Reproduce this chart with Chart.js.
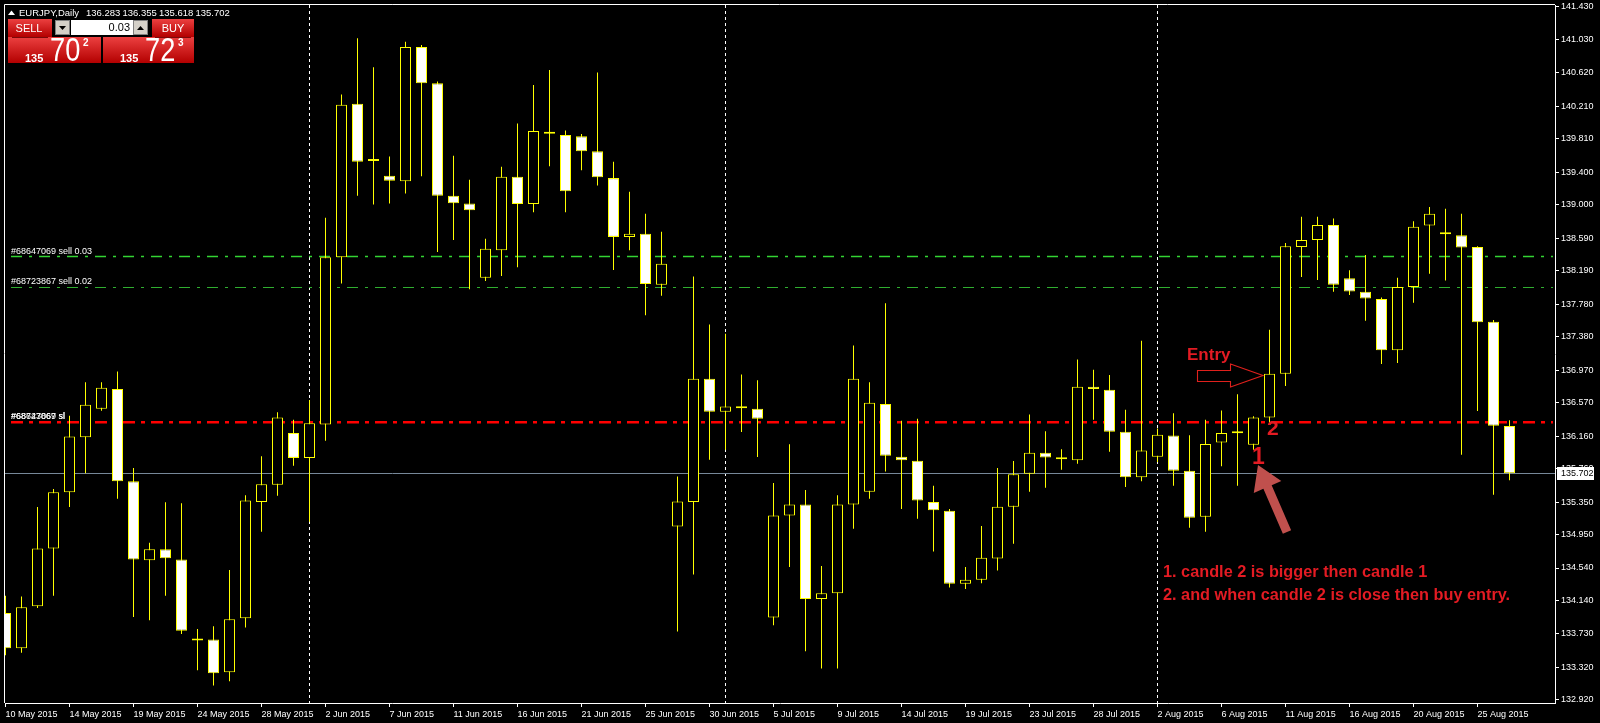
<!DOCTYPE html>
<html><head><meta charset="utf-8">
<script src="https://cdn.jsdelivr.net/npm/chart.js@4.4.1/dist/chart.umd.min.js"></script>
<style>html,body{margin:0;padding:0;background:#000;overflow:hidden}canvas{display:block}</style>
</head><body>
<canvas id="c" width="1600" height="723"></canvas>
<script>
// ---------- DATA ----------
const dates = [
'10 May 2015','11 May 2015','12 May 2015','13 May 2015','14 May 2015','15 May 2015',
'17 May 2015','18 May 2015','19 May 2015','20 May 2015','21 May 2015','22 May 2015',
'24 May 2015','25 May 2015','26 May 2015','27 May 2015','28 May 2015','29 May 2015',
'31 May 2015','1 Jun 2015','2 Jun 2015','3 Jun 2015','4 Jun 2015','5 Jun 2015',
'7 Jun 2015','8 Jun 2015','9 Jun 2015','10 Jun 2015','11 Jun 2015','12 Jun 2015',
'14 Jun 2015','15 Jun 2015','16 Jun 2015','17 Jun 2015','18 Jun 2015','19 Jun 2015',
'21 Jun 2015','22 Jun 2015','23 Jun 2015','24 Jun 2015','25 Jun 2015','26 Jun 2015',
'28 Jun 2015','29 Jun 2015','30 Jun 2015','1 Jul 2015','2 Jul 2015','3 Jul 2015',
'5 Jul 2015','6 Jul 2015','7 Jul 2015','8 Jul 2015','9 Jul 2015','10 Jul 2015',
'12 Jul 2015','13 Jul 2015','14 Jul 2015','15 Jul 2015','16 Jul 2015','17 Jul 2015',
'19 Jul 2015','20 Jul 2015','21 Jul 2015','22 Jul 2015','23 Jul 2015','24 Jul 2015',
'26 Jul 2015','27 Jul 2015','28 Jul 2015','29 Jul 2015','30 Jul 2015','31 Jul 2015',
'2 Aug 2015','3 Aug 2015','4 Aug 2015','5 Aug 2015','6 Aug 2015','7 Aug 2015',
'9 Aug 2015','10 Aug 2015','11 Aug 2015','12 Aug 2015','13 Aug 2015','14 Aug 2015',
'16 Aug 2015','17 Aug 2015','18 Aug 2015','19 Aug 2015','20 Aug 2015','21 Aug 2015',
'23 Aug 2015','24 Aug 2015','25 Aug 2015','26 Aug 2015','27 Aug 2015'];

const openP = [
133.987,133.555,134.070,134.780,135.470,136.144,136.495,136.738,135.605,134.634,134.769,134.645,
133.650,133.663,133.259,133.922,135.351,135.562,136.198,135.891,136.301,138.356,140.238,139.537,
139.354,139.289,140.934,140.492,139.110,139.014,138.102,138.442,139.343,139.008,139.890,139.855,
139.839,139.655,139.326,138.604,138.642,138.016,135.049,135.351,136.862,136.457,136.500,136.495,
133.933,135.184,135.319,134.159,134.230,135.319,135.475,136.554,135.907,135.858,135.351,135.244,
134.348,134.397,134.656,135.292,135.697,135.956,135.875,135.864,136.765,136.727,136.214,135.653,
135.907,136.166,135.734,135.168,136.080,136.193,136.053,136.387,136.926,138.480,138.566,138.750,
138.097,137.930,137.843,137.212,137.989,138.744,138.636,138.625,138.480,137.563,136.283];
const highP = [
134.200,134.190,135.290,135.510,136.410,136.819,136.820,136.953,135.767,134.850,135.346,135.335,
133.790,133.825,134.515,135.432,135.912,136.452,136.360,136.603,138.841,140.352,141.042,140.686,
139.591,140.999,140.960,140.513,139.602,139.305,138.582,139.467,139.995,140.470,140.653,139.909,
139.866,140.621,139.526,139.159,138.890,138.669,135.664,138.118,137.530,137.417,136.916,136.846,
135.583,136.058,135.497,134.564,135.432,137.272,136.819,137.789,136.349,136.371,135.551,135.265,
134.553,135.055,135.767,135.853,136.425,136.220,135.999,137.099,136.975,136.910,136.484,137.331,
136.252,136.441,136.171,136.360,136.473,136.673,136.403,137.466,138.528,138.852,138.852,138.830,
138.194,138.383,137.860,138.102,138.798,138.971,138.949,138.890,138.491,137.584,136.355];
const lowP = [
133.470,133.500,134.050,134.200,135.290,135.702,136.470,135.389,133.940,133.900,134.200,133.730,
133.286,133.097,133.150,133.809,134.985,135.427,135.794,135.109,136.101,138.032,139.110,139.003,
139.014,139.138,139.348,138.420,138.566,137.962,138.064,138.124,138.232,138.906,139.472,138.906,
139.424,139.235,138.199,138.442,137.644,137.881,133.760,134.461,135.869,135.993,136.209,135.902,
133.836,134.553,133.518,133.307,133.307,135.022,135.389,135.724,135.265,135.146,134.742,134.300,
134.283,134.354,134.510,134.839,135.475,135.524,135.745,135.821,136.360,135.966,135.535,135.605,
135.842,135.551,135.033,134.985,135.788,135.551,135.993,136.317,136.775,138.113,138.075,137.930,
137.892,137.574,137.045,137.056,137.795,138.151,138.070,135.929,136.468,135.438,135.618];
const closeP = [
133.555,134.057,134.780,135.470,136.155,136.543,136.754,135.605,134.645,134.769,134.660,133.770,
133.650,133.248,133.911,135.368,135.567,136.387,135.891,136.317,138.356,140.227,139.526,139.537,
139.294,140.934,140.492,139.110,139.019,138.933,138.458,139.343,139.008,139.904,139.870,139.165,
139.655,139.337,138.604,138.642,138.027,138.275,135.357,136.862,136.457,136.522,136.500,136.371,
135.184,135.319,134.159,134.230,135.319,136.862,136.570,135.918,135.864,135.368,135.249,134.348,
134.397,134.666,135.292,135.691,135.956,135.896,135.875,136.765,136.738,136.214,135.653,135.982,
136.177,135.734,135.157,136.063,136.198,136.193,136.387,136.926,138.491,138.566,138.750,138.016,
137.935,137.849,137.212,137.989,138.728,138.890,138.636,138.474,137.557,136.285,135.702];

const yTickValues = [141.430,141.030,140.620,140.210,139.810,139.400,139.000,138.590,138.190,137.780,137.380,
136.970,136.570,136.160,135.760,135.350,134.950,134.540,134.140,133.730,133.320,132.920];
const sellLevels = [138.366, 137.993];
const sellLabels = ['#68647069 sell 0.03', '#68723867 sell 0.02'];
const stopLevel = 136.330;
const stopLabels = ['#68647069 sl', '#68723867 sl'];
const lastPrice = 135.702;
const separatorIdx = [19, 45, 72];
const headerSymbol = 'EURJPY,Daily';
const headerOHLC = ['136.283', '136.355', '135.618', '135.702'];
const sellQuote = ['135', '70', '2'];
const buyQuote = ['135', '72', '3'];
const lotSize = '0.03';
const noteLines = ['1. candle 2 is bigger then candle 1', '2. and when candle 2 is close then buy entry.'];

// ---------- BUILD ----------
const idx = dates.map((_, i) => i);
const wickData = idx.map(i => ({x: i, y: [lowP[i], highP[i]]}));
const bodyData = idx.map(i => ({x: i, y: [Math.min(openP[i], closeP[i]), Math.max(openP[i], closeP[i])]}));
const bodyFill = idx.map(i => closeP[i] < openP[i] ? '#ffffff' : '#000000');
const FONT = "'Liberation Sans', Arial, sans-serif";
Chart.defaults.font.family = FONT;

function grad(ctx, y0, y1) {
  const g = ctx.createLinearGradient(0, y0, 0, y1);
  g.addColorStop(0, '#ec4040'); g.addColorStop(1, '#b30000');
  return g;
}

const mt4 = {
  id: 'mt4',
  beforeDatasetsDraw(chart) {
    const {ctx, chartArea: a, scales: {x, y}} = chart;
    ctx.save();
    ctx.beginPath(); ctx.rect(a.left, a.top, a.right - a.left, a.bottom - a.top); ctx.clip();
    ctx.strokeStyle = '#ffffff'; ctx.lineWidth = 1; ctx.setLineDash([3, 3]);
    separatorIdx.forEach(i => {
      const px = Math.floor(x.getPixelForValue(i)) + 0.5;
      ctx.beginPath(); ctx.moveTo(px, a.top); ctx.lineTo(px, a.bottom); ctx.stroke();
    });
    ctx.setLineDash([11, 7, 3, 7]);
    sellLevels.forEach((p, k) => {
      const py = Math.round(y.getPixelForValue(p)) + 0.5;
      ctx.strokeStyle = k === 0 ? '#33d433' : '#2fae2f';
      ctx.lineWidth = k === 0 ? 1.6 : 1;
      ctx.beginPath(); ctx.moveTo(a.left + 6, py); ctx.lineTo(a.right - 2, py); ctx.stroke();
    });
    ctx.setLineDash([12, 6, 4, 6]);
    ctx.strokeStyle = '#ff0000'; ctx.lineWidth = 2.6;
    const sy = y.getPixelForValue(stopLevel);
    ctx.beginPath(); ctx.moveTo(a.left + 6, sy); ctx.lineTo(a.right - 2, sy); ctx.stroke();
    ctx.setLineDash([]);
    ctx.strokeStyle = '#778899'; ctx.lineWidth = 1;
    const ly = Math.round(y.getPixelForValue(lastPrice)) + 0.5;
    ctx.beginPath(); ctx.moveTo(a.left, ly); ctx.lineTo(a.right, ly); ctx.stroke();
    ctx.restore();
  },
  afterDatasetsDraw(chart) {
    const {ctx, chartArea: a, scales: {y}} = chart;
    ctx.save();
    ctx.fillStyle = '#ffffff'; ctx.font = '9px ' + FONT; ctx.textBaseline = 'alphabetic';
    sellLevels.forEach((p, k) => ctx.fillText(sellLabels[k], 11, y.getPixelForValue(p) - 2.5));
    const sy = y.getPixelForValue(stopLevel);
    stopLabels.forEach(t => ctx.fillText(t, 11, sy - 3));

    const red = '#e31b23';
    ctx.fillStyle = red;
    ctx.font = 'bold 17px ' + FONT;
    ctx.fillText('Entry', 1187, 360);
    ctx.strokeStyle = '#e0201c'; ctx.lineWidth = 1.1;
    ctx.beginPath();
    ctx.moveTo(1197.5, 370.5); ctx.lineTo(1230.5, 370.5); ctx.lineTo(1230.5, 364);
    ctx.lineTo(1263, 375.5); ctx.lineTo(1230.5, 387); ctx.lineTo(1230.5, 381.5);
    ctx.lineTo(1197.5, 381.5); ctx.closePath(); ctx.stroke();

    ctx.fillStyle = red;
    ctx.font = 'bold 21px ' + FONT; ctx.fillText('2', 1267, 435);
    ctx.font = 'bold 23px ' + FONT; ctx.fillText('1', 1252, 464);

    const T = [1258, 465], E = [1287, 532];
    const dx = E[0] - T[0], dy = E[1] - T[1], L = Math.hypot(dx, dy);
    const u = [dx / L, dy / L], n = [u[1], -u[0]];
    const hl = 24, hw = 15, sw = 4.5;
    const B = [T[0] + u[0] * hl, T[1] + u[1] * hl];
    ctx.fillStyle = '#c0504d';
    ctx.beginPath();
    ctx.moveTo(T[0], T[1]);
    ctx.lineTo(B[0] + n[0] * hw, B[1] + n[1] * hw);
    ctx.lineTo(B[0] + n[0] * sw, B[1] + n[1] * sw);
    ctx.lineTo(E[0] + n[0] * sw, E[1] + n[1] * sw);
    ctx.lineTo(E[0] - n[0] * sw, E[1] - n[1] * sw);
    ctx.lineTo(B[0] - n[0] * sw, B[1] - n[1] * sw);
    ctx.lineTo(B[0] - n[0] * hw, B[1] - n[1] * hw);
    ctx.closePath(); ctx.fill();

    ctx.fillStyle = red;
    ctx.font = 'bold 16.3px ' + FONT;
    ctx.fillText(noteLines[0], 1163, 577);
    ctx.fillText(noteLines[1], 1163, 600);
    ctx.restore();
  },
  afterDraw(chart) {
    const {ctx, chartArea: a, scales: {y}} = chart;
    ctx.save();
    ctx.strokeStyle = '#ffffff'; ctx.lineWidth = 1;
    ctx.beginPath(); ctx.moveTo(4.5, a.bottom); ctx.lineTo(4.5, 4.5); ctx.lineTo(a.right, 4.5); ctx.stroke();
    const py = y.getPixelForValue(lastPrice);
    ctx.fillStyle = '#ffffff'; ctx.fillRect(1557, Math.round(py) - 6, 37, 13);
    ctx.fillStyle = '#000000'; ctx.font = '9px ' + FONT; ctx.textBaseline = 'middle';
    ctx.fillText(lastPrice.toFixed(3), 1561, py + 0.5);
    ctx.textBaseline = 'alphabetic';
    ctx.fillStyle = '#ffffff';
    ctx.beginPath(); ctx.moveTo(8, 15); ctx.lineTo(15, 15); ctx.lineTo(11.5, 10.5); ctx.closePath(); ctx.fill();
    ctx.font = '9.5px ' + FONT;
    ctx.fillText(headerSymbol, 19, 16);
    headerOHLC.forEach((t, k) => ctx.fillText(t, 86 + k * 36.5, 16));
    ctx.fillStyle = grad(ctx, 19, 37); ctx.fillRect(8, 19, 44, 18); ctx.fillRect(152, 19, 42, 18);
    ctx.fillStyle = grad(ctx, 37, 63); ctx.fillRect(8, 37, 93, 26); ctx.fillRect(103, 37, 91, 26);
    ctx.strokeStyle = '#7a0a0a'; ctx.lineWidth = 1;
    ctx.beginPath(); ctx.moveTo(12, 37.5); ctx.lineTo(48, 37.5); ctx.moveTo(155, 37.5); ctx.lineTo(191, 37.5); ctx.stroke();
    ctx.fillStyle = '#ffffff'; ctx.font = '11px ' + FONT; ctx.textAlign = 'center';
    ctx.fillText('SELL', 29, 32); ctx.fillText('BUY', 173, 32);
    ctx.textAlign = 'left';
    ctx.fillStyle = '#d4d0c8'; ctx.fillRect(55, 20, 15, 15); ctx.fillRect(133, 20, 15, 15);
    ctx.strokeStyle = '#808080'; ctx.strokeRect(55.5, 20.5, 14, 14); ctx.strokeRect(133.5, 20.5, 14, 14);
    ctx.fillStyle = '#000000';
    ctx.beginPath(); ctx.moveTo(59, 26); ctx.lineTo(66, 26); ctx.lineTo(62.5, 30); ctx.closePath(); ctx.fill();
    ctx.beginPath(); ctx.moveTo(137, 30); ctx.lineTo(144, 30); ctx.lineTo(140.5, 26); ctx.closePath(); ctx.fill();
    ctx.fillStyle = '#ffffff'; ctx.fillRect(71, 20, 62, 15);
    ctx.fillStyle = '#000000'; ctx.font = '11px ' + FONT; ctx.textAlign = 'right';
    ctx.fillText(lotSize, 130, 31); ctx.textAlign = 'left';
    const quote = (q, x0) => {
      ctx.fillStyle = '#ffffff';
      ctx.font = 'bold 11px ' + FONT; ctx.fillText(q[0], x0, 62);
      ctx.save(); ctx.translate(x0 + 25, 61); ctx.scale(0.8, 1);
      ctx.font = '34px ' + FONT; ctx.fillText(q[1], 0, 0); ctx.restore();
      ctx.font = 'bold 10px ' + FONT; ctx.fillText(q[2], x0 + 58, 46);
    };
    quote(sellQuote, 25);
    quote(buyQuote, 120);
    ctx.restore();
  }
};

new Chart(document.getElementById('c'), {
  type: 'bar',
  data: {
    datasets: [
      {label: 'body', data: bodyData, order: 0, grouped: false, barThickness: 11,
       backgroundColor: bodyFill, borderColor: '#ffff00', borderWidth: 1, borderSkipped: false,
       minBarLength: 2, inflateAmount: 0},
      {label: 'wick', data: wickData, order: 1, grouped: false, barThickness: 1,
       backgroundColor: '#ffff00', borderWidth: 0, inflateAmount: 0}
    ]
  },
  options: {
    responsive: false, animation: false, devicePixelRatio: 1,
    events: [],
    layout: {padding: {left: 5, top: 5, right: 0, bottom: 0}},
    plugins: {legend: {display: false}, tooltip: {enabled: false}},
    scales: {
      x: {
        type: 'linear', min: -0.03125, max: 96.84375, offset: false, position: 'bottom',
        afterBuildTicks: s => { s.ticks = idx.filter(i => i % 4 === 0).map(v => ({value: v})); },
        afterFit: s => { s.height = 20; s.paddingLeft = 0; s.paddingRight = 0; },
        ticks: {autoSkip: false, maxRotation: 0, minRotation: 0, align: 'start', color: '#ffffff',
                font: {size: 9}, padding: 2, labelOffset: 0, callback: v => dates[v] || ''},
        grid: {offset: false, drawOnChartArea: false, drawTicks: true, tickLength: 4, color: '#ffffff', lineWidth: 1},
        border: {display: true, color: '#ffffff', width: 1}
      },
      y: {
        type: 'linear', position: 'right', min: 132.883, max: 141.451,
        afterBuildTicks: s => { s.ticks = yTickValues.map(v => ({value: v})); },
        afterFit: s => { s.width = 45; s.paddingTop = 0; s.paddingBottom = 0; },
        ticks: {color: '#ffffff', font: {size: 9}, padding: 2, callback: v => Number(v).toFixed(3)},
        grid: {drawOnChartArea: false, drawTicks: true, tickLength: 4, color: '#ffffff', lineWidth: 1},
        border: {display: true, color: '#ffffff', width: 1}
      }
    }
  },
  plugins: [mt4]
});
</script>
</body></html>
